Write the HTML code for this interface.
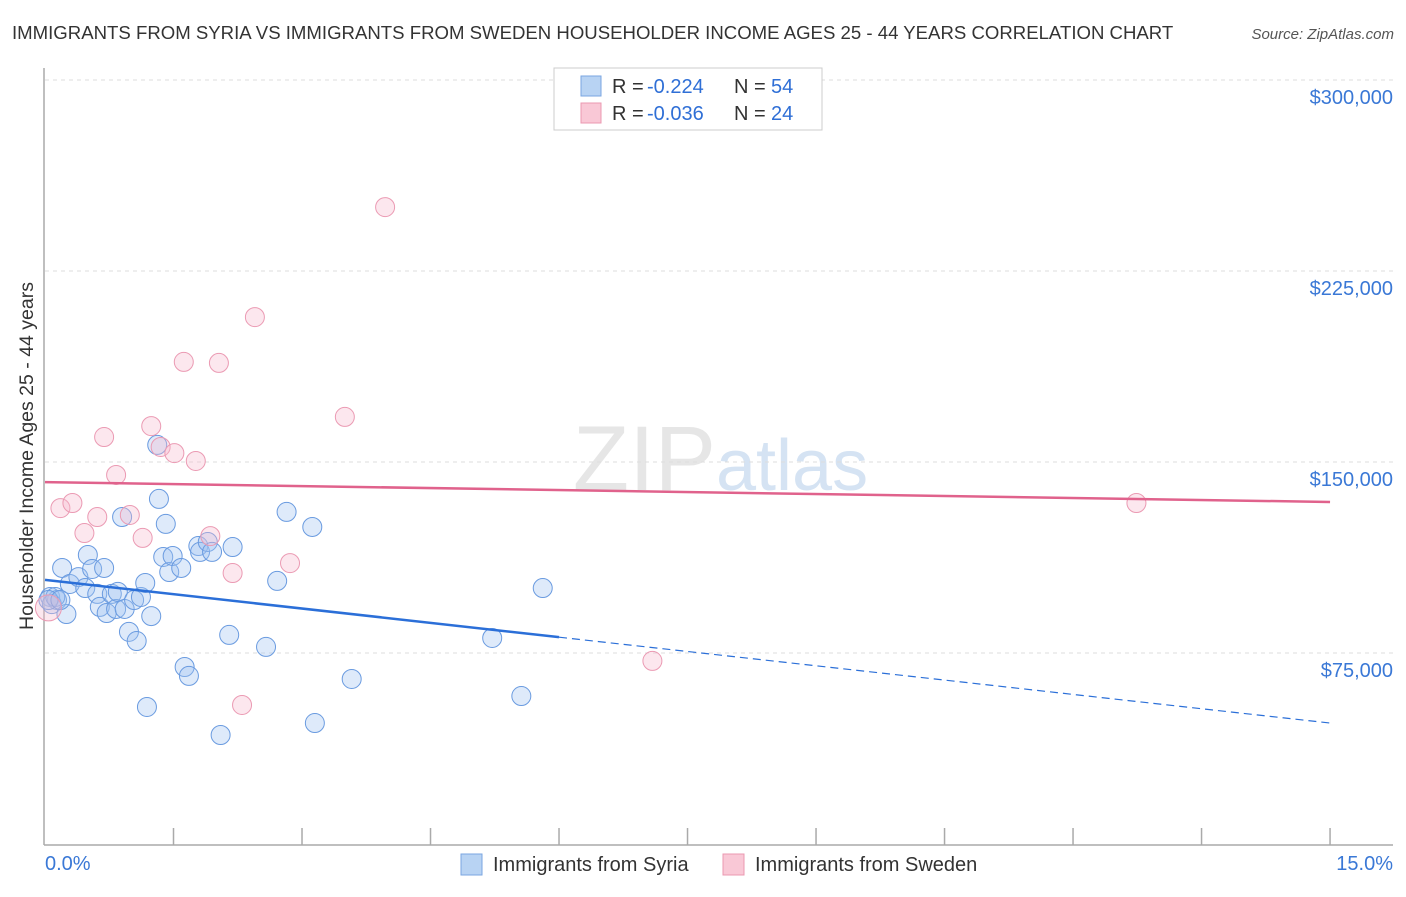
<!DOCTYPE html>
<html><head><meta charset="utf-8"><style>
body{margin:0;background:#fff;font-family:"Liberation Sans",sans-serif;}
svg text{font-family:"Liberation Sans",sans-serif;}
</style></head><body>
<svg id="chart" width="1406" height="892">
<text x="12" y="39" font-size="18.6" fill="#333">IMMIGRANTS FROM SYRIA VS IMMIGRANTS FROM SWEDEN HOUSEHOLDER INCOME AGES 25 - 44 YEARS CORRELATION CHART</text>
<text x="1394" y="39" font-size="15" fill="#555" font-style="italic" text-anchor="end">Source: ZipAtlas.com</text>
<text x="716" y="490" font-size="92" fill="#e6e6e6" text-anchor="end" font-family="Liberation Serif">ZIP</text>
<text x="716" y="490" font-size="72" fill="#d5e3f3">atlas</text>
<g id="grid"></g>
<line x1="44" y1="68" x2="44" y2="845" stroke="#aaa" stroke-width="1.5"/>
<line x1="44" y1="845" x2="1393" y2="845" stroke="#aaa" stroke-width="1.5"/>
<g id="xticks"></g>
<text x="33" y="456" font-size="19.5" fill="#333" text-anchor="middle" transform="rotate(-90 33 456)">Householder Income Ages 25 - 44 years</text>
<text x="45" y="870" font-size="20" fill="#3a78d6">0.0%</text>
<text x="1393" y="870" font-size="20" fill="#3a78d6" text-anchor="end">15.0%</text>
<g id="pts"></g>
<g id="trends"></g>
<g>
<rect x="554" y="68" width="268" height="62" fill="#fff" stroke="#ccc"/>
<rect x="581" y="76" width="20" height="20" fill="#b8d3f3" stroke="#7aa6e0"/>
<rect x="581" y="103" width="20" height="20" fill="#f9c8d6" stroke="#eb98b0"/>
<text x="612" y="93" font-size="20" fill="#333">R =</text>
<text x="647" y="93" font-size="20" fill="#2f6fd6">-0.224</text>
<text x="734" y="93" font-size="20" fill="#333">N =</text>
<text x="771" y="93" font-size="20" fill="#2f6fd6">54</text>
<text x="612" y="120" font-size="20" fill="#333">R =</text>
<text x="647" y="120" font-size="20" fill="#2f6fd6">-0.036</text>
<text x="734" y="120" font-size="20" fill="#333">N =</text>
<text x="771" y="120" font-size="20" fill="#2f6fd6">24</text>
</g>
<g>
<rect x="461" y="854" width="21" height="21" fill="#b8d3f3" stroke="#7aa6e0"/>
<text x="493" y="871" font-size="20" fill="#333">Immigrants from Syria</text>
<rect x="723" y="854" width="21" height="21" fill="#f9c8d6" stroke="#eb98b0"/>
<text x="755" y="871" font-size="20" fill="#333">Immigrants from Sweden</text>
</g>
</svg>
<script>
const yTicks=[75000,150000,225000,300000];
const yTickLabels=["$75,000","$150,000","$225,000","$300,000"];
const syriaX=[0.06,0.14,0.08,0.20,0.25,0.29,0.39,0.47,0.50,0.55,0.61,0.64,0.69,0.72,0.78,0.83,0.85,0.90,0.93,0.98,1.04,1.07,1.12,1.17,1.19,1.24,1.31,1.33,1.38,1.41,1.45,1.49,1.59,1.63,1.68,1.79,1.81,1.90,1.95,2.05,2.15,2.19,2.58,2.71,2.82,3.12,3.15,3.58,5.22,5.56,5.81,0.12,0.04,0.18];
const syriaY=[97.0,95.8,94.2,108.4,90.3,102.1,104.8,100.5,113.5,108.0,98.2,93.1,108.4,90.7,98.2,92.3,99.0,128.4,92.3,83.3,95.8,79.7,97.0,102.5,53.8,89.5,156.7,135.5,112.7,125.7,106.8,113.1,108.4,69.5,66.0,117.0,114.7,118.6,114.7,42.8,82.1,116.6,77.4,103.3,130.4,124.5,47.5,64.8,80.9,58.1,100.5,97.0,95.8,95.8];
const swedenX=[0.04,0.18,0.32,0.46,0.61,0.69,0.83,0.99,1.14,1.24,1.35,1.51,1.62,1.76,1.93,2.03,2.19,2.30,2.45,2.86,3.50,3.97,7.09,12.74];
const swedenY=[92.7,131.9,133.9,122.1,128.4,159.8,144.9,129.2,120.2,164.1,155.9,153.5,189.3,150.4,120.9,188.9,106.4,54.6,206.9,110.3,167.7,250.1,71.9,133.9];
const syriaTrend=[103.7,47.5];
const syriaSolidEnd=6.0;
const swedenTrend=[142.1,134.3];
const NS="http://www.w3.org/2000/svg";
const X=p=>45+p*85.67, Y=k=>80+(300-k)*191/75;
function mk(t,a,parent){const e=document.createElementNS(NS,t);for(const k in a)e.setAttribute(k,a[k]);document.getElementById(parent).appendChild(e);return e;}
yTicks.forEach((v,i)=>{const y=Y(v/1000);
 const l=mk('line',{x1:45,y1:y,x2:1393,y2:y,stroke:'#ddd','stroke-dasharray':'4 4'},'grid');
 
 
 const t=mk('text',{x:1393,y:y+24,'font-size':20,fill:'#3a78d6','text-anchor':'end'},'grid');t.textContent=yTickLabels[i];
 
 });
for(let i=1;i<=10;i++){const x=X(i*1.5);const l=mk('line',{x1:x,y1:828,x2:x,y2:845,stroke:'#aaa','stroke-width':1.5},'xticks');
 
 }
syriaX.forEach((p,i)=>{const c=mk('circle',{cx:X(p),cy:Y(syriaY[i]),r:9.5,fill:'rgba(160,195,240,0.35)',stroke:'#6a9be0','stroke-width':1},'pts');
 
 });
swedenX.forEach((p,i)=>{const c=mk('circle',{cx:X(p),cy:Y(swedenY[i]),r:i==0?13:9.5,fill:'rgba(246,185,205,0.35)',stroke:'#eb9ab3','stroke-width':1},'pts');
 
 });
const sy=p=>syriaTrend[0]+(syriaTrend[1]-syriaTrend[0])*p/15;
let l=mk('line',{x1:X(0),y1:Y(sy(0)),x2:X(syriaSolidEnd),y2:Y(sy(syriaSolidEnd)),stroke:'#2b6fd8','stroke-width':2.5},'trends');


l=mk('line',{x1:X(syriaSolidEnd),y1:Y(sy(syriaSolidEnd)),x2:X(15),y2:Y(sy(15)),stroke:'#2b6fd8','stroke-width':1.2,'stroke-dasharray':'8 5'},'trends');


l=mk('line',{x1:X(0),y1:Y(swedenTrend[0]),x2:X(15),y2:Y(swedenTrend[1]),stroke:'#e0628c','stroke-width':2.5},'trends');


</script>
</body></html>
